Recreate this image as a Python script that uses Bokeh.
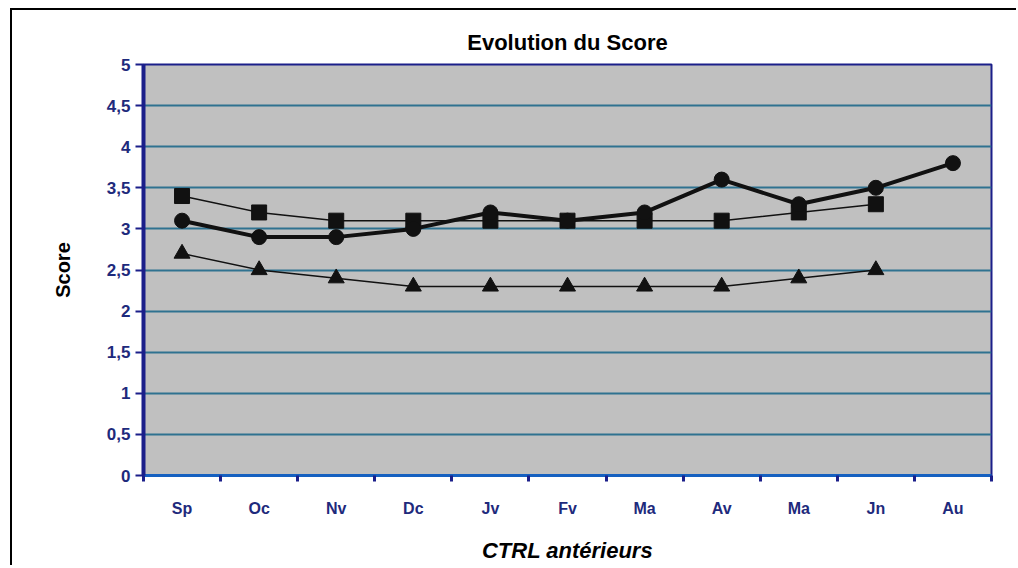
from bokeh.plotting import figure
from bokeh.models import FixedTicker, Range1d
from bokeh.embed import file_html
from bokeh.resources import INLINE

months = ["Sp", "Oc", "Nv", "Dc", "Jv", "Fv", "Ma", "Av", "Ma", "Jn", "Au"]
score_circle = [3.1, 2.9, 2.9, 3.0, 3.2, 3.1, 3.2, 3.6, 3.3, 3.5, 3.8]
score_square = [3.4, 3.2, 3.1, 3.1, 3.1, 3.1, 3.1, 3.1, 3.2, 3.3]
score_triangle = [2.7, 2.5, 2.4, 2.3, 2.3, 2.3, 2.3, 2.3, 2.4, 2.5]
y_ticks = [0, 0.5, 1, 1.5, 2, 2.5, 3, 3.5, 4, 4.5, 5]
y_labels = ["0", "0,5", "1", "1,5", "2", "2,5", "3", "3,5", "4", "4,5", "5"]

n = len(months)
centers = [i + 0.5 for i in range(n)]

NAVY = "#1b1f8a"
LBL = "#1e2a7c"
FONT = "Liberation Sans"

p = figure(frame_width=848, frame_height=411,
           x_range=Range1d(0, n), y_range=Range1d(0, 5),
           output_backend="svg", toolbar_location=None,
           min_border_left=131, min_border_top=54,
           min_border_right=25, min_border_bottom=90,
           background_fill_color="#c0c0c0", border_fill_color="white")
p.styles = {"margin-left": "10px", "margin-top": "8px",
            "border-left": "2px solid black", "border-top": "2px solid black"}

p.outline_line_color = NAVY
p.outline_line_width = 2

p.title.text = "Evolution du Score"
p.title.align = "center"
p.title.text_font = FONT
p.title.text_font_size = "22px"
p.title.text_font_style = "bold"
p.title.text_color = "black"
p.title.standoff = 19

# x axis
p.xaxis.ticker = FixedTicker(ticks=centers, minor_ticks=list(range(n + 1)))
p.xaxis.major_label_overrides = {c: m for c, m in zip(centers, months)}
p.xaxis.major_tick_out = 0
p.xaxis.major_tick_in = 0
p.xaxis.minor_tick_out = 6
p.xaxis.minor_tick_in = 0
p.xaxis.minor_tick_line_color = NAVY
p.xaxis.minor_tick_line_width = 3
p.xaxis.axis_line_color = "#1560c0"
p.xaxis.axis_line_width = 3
p.xaxis.major_label_standoff = 18
p.xaxis.major_label_text_font = FONT
p.xaxis.major_label_text_font_size = "16px"
p.xaxis.major_label_text_font_style = "bold"
p.xaxis.major_label_text_color = LBL
p.xaxis.axis_label = "CTRL antérieurs"
p.xaxis.axis_label_text_font = FONT
p.xaxis.axis_label_text_font_size = "22px"
p.xaxis.axis_label_text_font_style = "bold italic"
p.xaxis.axis_label_text_color = "black"
p.xaxis.axis_label_standoff = 18

# y axis
p.yaxis.ticker = FixedTicker(ticks=y_ticks)
p.yaxis.major_label_overrides = {t: l for t, l in zip(y_ticks, y_labels)}
p.yaxis.minor_tick_line_color = None
p.yaxis.major_tick_out = 8
p.yaxis.major_tick_in = 0
p.yaxis.major_tick_line_color = NAVY
p.yaxis.major_tick_line_width = 2
p.yaxis.axis_line_color = NAVY
p.yaxis.axis_line_width = 4
p.yaxis.major_label_standoff = 5
p.yaxis.major_label_text_font = FONT
p.yaxis.major_label_text_font_size = "17px"
p.yaxis.major_label_text_font_style = "bold"
p.yaxis.major_label_text_color = LBL
p.yaxis.axis_label = "Score"
p.yaxis.axis_label_text_font = FONT
p.yaxis.axis_label_text_font_size = "20px"
p.yaxis.axis_label_text_font_style = "bold"
p.yaxis.axis_label_text_color = "black"
p.yaxis.axis_label_standoff = 30

p.xgrid.visible = False
p.ygrid.ticker = FixedTicker(ticks=y_ticks)
p.ygrid.grid_line_color = "#2f7290"
p.ygrid.grid_line_width = 2

INK = "#111111"
p.line(centers[:len(score_square)], score_square, line_width=1.5, color=INK)
p.scatter(centers[:len(score_square)], score_square, marker="square", size=15, color=INK)
p.line(centers[:len(score_triangle)], score_triangle, line_width=1.5, color=INK)
p.scatter(centers[:len(score_triangle)], score_triangle, marker="triangle", size=16, color=INK)
p.line(centers, score_circle, line_width=4, color=INK)
p.scatter(centers, score_circle, marker="circle", size=15, color=INK)

open("out.html", "w").write(file_html(p, INLINE))
